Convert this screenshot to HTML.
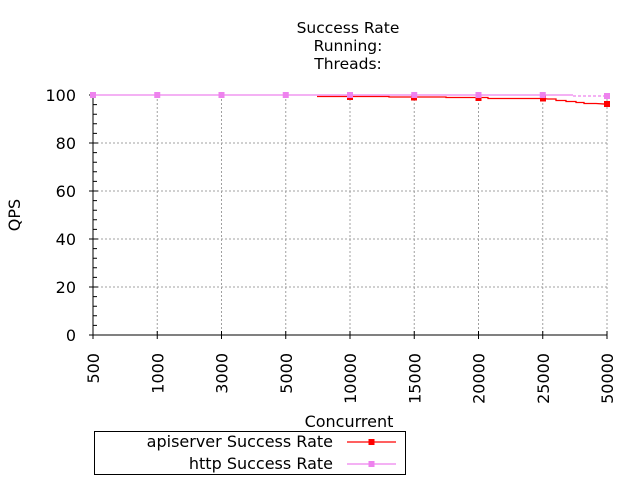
<!DOCTYPE html>
<html><head><meta charset="utf-8"><style>
html,body{margin:0;padding:0;background:#fff;}
svg{display:block;font-family:"DejaVu Sans","Liberation Sans",sans-serif;}
</style></head><body>
<svg width="640" height="480" viewBox="0 0 640 480" xmlns="http://www.w3.org/2000/svg">
<g font-size="15.5" fill="#000" text-anchor="middle">
<text x="348" y="33">Success Rate</text>
<text x="348" y="51">Running:</text>
<text x="348" y="69">Threads:</text>
</g>
<g stroke="#a0a0a0" stroke-width="1" stroke-dasharray="2,2">
<line x1="93" y1="287" x2="607" y2="287"/>
<line x1="93" y1="239" x2="607" y2="239"/>
<line x1="93" y1="191" x2="607" y2="191"/>
<line x1="93" y1="143" x2="607" y2="143"/>
<line x1="157.25" y1="95" x2="157.25" y2="335"/>
<line x1="221.5" y1="95" x2="221.5" y2="335"/>
<line x1="285.75" y1="95" x2="285.75" y2="335"/>
<line x1="350" y1="95" x2="350" y2="335"/>
<line x1="414.25" y1="95" x2="414.25" y2="335"/>
<line x1="478.5" y1="95" x2="478.5" y2="335"/>
<line x1="542.75" y1="95" x2="542.75" y2="335"/>
<line x1="607" y1="95" x2="607" y2="335"/>
</g>
<g stroke="#000" stroke-width="1">
<line x1="93" y1="95" x2="93" y2="335.5"/>
<line x1="92.5" y1="335" x2="607" y2="335"/>
<path d="M89 335h9M89 287h9M89 239h9M89 191h9M89 143h9M89 95h9
M93 325.4h4M93 315.8h4M93 306.2h4M93 296.6h4
M93 277.4h4M93 267.8h4M93 258.2h4M93 248.6h4
M93 229.4h4M93 219.8h4M93 210.2h4M93 200.6h4
M93 181.4h4M93 171.8h4M93 162.2h4M93 152.6h4
M93 133.4h4M93 123.8h4M93 114.2h4M93 104.6h4"/>
<path d="M93 331v8M157.25 331v8M221.5 331v8M285.75 331v8M350 331v8M414.25 331v8M478.5 331v8M542.75 331v8M607 331v8"/>
</g>
<g font-size="16" text-anchor="end">
<text x="76" y="341">0</text>
<text x="76" y="293">20</text>
<text x="76" y="245">40</text>
<text x="76" y="197">60</text>
<text x="76" y="149">80</text>
<text x="76" y="101">100</text>
</g>
<g font-size="16" text-anchor="end">
<text transform="translate(99,353) rotate(-90)">500</text>
<text transform="translate(163.25,353) rotate(-90)">1000</text>
<text transform="translate(227.5,353) rotate(-90)">3000</text>
<text transform="translate(291.75,353) rotate(-90)">5000</text>
<text transform="translate(356,353) rotate(-90)">10000</text>
<text transform="translate(420.25,353) rotate(-90)">15000</text>
<text transform="translate(484.5,353) rotate(-90)">20000</text>
<text transform="translate(548.75,353) rotate(-90)">25000</text>
<text transform="translate(613,353) rotate(-90)">50000</text>
</g>
<text font-size="16" transform="translate(20,215) rotate(-90)" text-anchor="middle">QPS</text>
<text font-size="16" x="349" y="427" text-anchor="middle">Concurrent</text>
<polyline fill="none" stroke="#ff0000" stroke-width="1.3" points="317,96.5 350,96.5 360,96.5 389,96.5 389,97 414,97 420,97 446,97 446,97.5 478,97.5 488,97.5 488,98.5 542,98.5 548,99 556,99 556,100.5 566,100.5 566,101.5 576,101.5 576,102.5 584,102.5 584,103.5 596,103.5 607,104.2"/>
<g fill="#ff0000">
<rect x="347" y="94" width="6" height="6"/><rect x="411" y="94.5" width="6" height="6"/><rect x="475.5" y="95" width="6" height="6"/><rect x="540" y="95.5" width="6" height="6"/><rect x="604" y="101" width="6" height="6"/>
</g>
<polyline fill="none" stroke="#ee82ee" stroke-width="1.3" points="93,95 573,95"/>
<line x1="573" y1="96" x2="607" y2="96" stroke="#ee82ee" stroke-width="1.3" stroke-dasharray="3,2"/>
<g fill="#ee82ee">
<rect x="90" y="92" width="6" height="6"/><rect x="154.25" y="92" width="6" height="6"/><rect x="218.5" y="92" width="6" height="6"/><rect x="282.75" y="92" width="6" height="6"/><rect x="347" y="92" width="6" height="6"/><rect x="411.25" y="92" width="6" height="6"/><rect x="475.5" y="92" width="6" height="6"/><rect x="539.75" y="92" width="6" height="6"/><rect x="604" y="93" width="6" height="6"/>
</g>
<rect x="94.5" y="431.5" width="311" height="43" fill="none" stroke="#000" stroke-width="1"/>
<g font-size="16" text-anchor="end">
<text x="333" y="447">apiserver Success Rate</text>
<text x="333" y="469">http Success Rate</text>
</g>
<line x1="347" y1="442" x2="396" y2="442" stroke="#ff0000" stroke-width="1.3"/>
<rect x="368.5" y="439" width="6" height="6" fill="#ff0000"/>
<line x1="347" y1="464" x2="396" y2="464" stroke="#ee82ee" stroke-width="1.3"/>
<rect x="368.5" y="461" width="6" height="6" fill="#ee82ee"/>
</svg>
</body></html>
